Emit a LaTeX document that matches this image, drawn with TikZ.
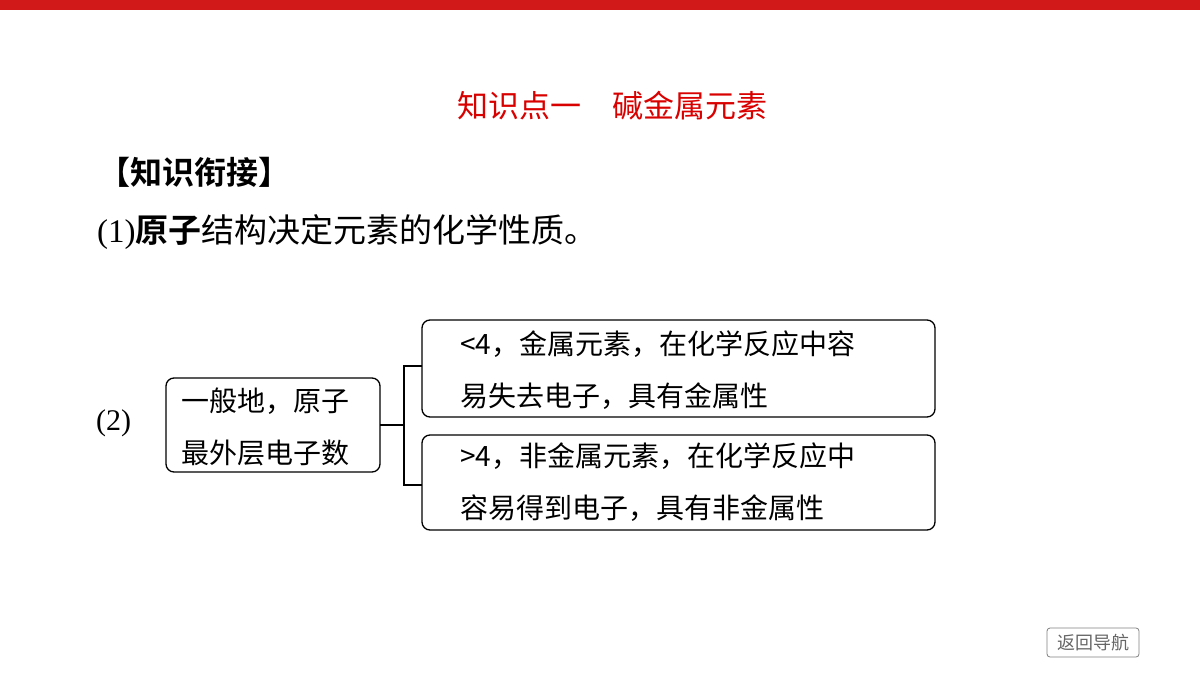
\documentclass[tikz,border=0pt]{standalone}
\usepackage{fontspec}
\setmainfont{Liberation Serif}
\newfontfamily\cjk{Noto Sans CJK SC}
\newfontfamily\cjkb{Noto Sans CJK SC Bold}
\begin{document}
\begin{tikzpicture}[x=1pt,y=-1pt,
  bx/.style={draw,rounded corners=8pt,line width=1.3pt},
  txt/.style={anchor=west,inner sep=0pt,font=\cjk\fontsize{28}{52}\selectfont,align=left}]
\useasboundingbox (0,0) rectangle (1200,675);
\fill[red!80!black!90] (0,0) rectangle (1200,10);
\node[font=\cjk\fontsize{31}{36}\selectfont,text=red!85!black] (title) at (612,106) {知识点一\quad 碱金属元素};
\node[anchor=west,inner sep=0pt,font=\cjkb\fontsize{32}{36}\selectfont] (h) at (98,172) {【知识衔接】};
\node[anchor=west,inner sep=0pt,font=\fontsize{33}{36}\selectfont] (l1) at (97,232) {(1){\cjkb 原子}{\cjk 结构决定元素的化学性质。}};
\node[anchor=west,inner sep=0pt,font=\fontsize{30}{36}\selectfont] (l2) at (96,423) {(2)};
\draw[bx] (166,378) rectangle (380,472);
\node[txt] (a) at (181,427) {一般地，原子\\最外层电子数};
\draw[bx] (422,320) rectangle (935,417);
\node[txt] (b) at (460,370) {<4，金属元素，在化学反应中容\\易失去电子，具有金属性};
\draw[bx] (422,435) rectangle (935,530);
\node[txt] (c) at (460,482) {>4，非金属元素，在化学反应中\\容易得到电子，具有非金属性};
\coordinate (j) at (404,425);
\draw[line width=1.1pt] (380,425) -- (j);
\draw[line width=1.1pt] (422,366) -- (404,366) -- (404,485) -- (422,485);
\draw[gray,rounded corners=3pt,line width=0.8pt] (1047,628) rectangle (1139,657);
\node[font=\cjk\fontsize{18}{20}\selectfont,text=gray!80!black] (nav) at (1093,643) {返回导航};
\end{tikzpicture}
\end{document}
